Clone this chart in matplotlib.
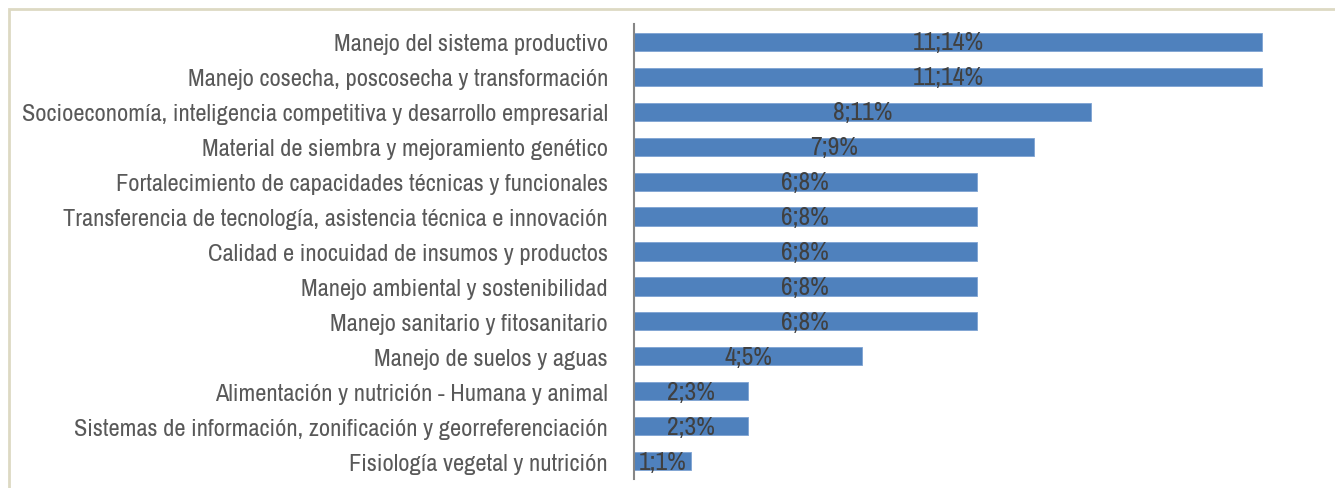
import matplotlib
matplotlib.use('Agg')
import matplotlib.pyplot as plt
from matplotlib import font_manager
from matplotlib.patches import Rectangle

# Data (top to bottom as shown)
categories = [
    'Manejo del sistema productivo',
    'Manejo cosecha, poscosecha y transformación',
    'Socioeconomía, inteligencia competitiva y desarrollo empresarial',
    'Material de siembra y mejoramiento genético',
    'Fortalecimiento de capacidades técnicas y funcionales',
    'Transferencia de tecnología, asistencia técnica e innovación',
    'Calidad e inocuidad de insumos y productos',
    'Manejo ambiental y sostenibilidad',
    'Manejo sanitario y fitosanitario',
    'Manejo de suelos y aguas',
    'Alimentación y nutrición - Humana y animal',
    'Sistemas de información, zonificación y georreferenciación',
    'Fisiología vegetal y nutrición',
]
counts = [11, 11, 8, 7, 6, 6, 6, 6, 6, 4, 2, 2, 1]
percents = [14, 14, 11, 9, 8, 8, 8, 8, 8, 5, 3, 3, 1]

# look for a narrow font, otherwise plain DejaVu Sans
names = sorted({f.name for f in font_manager.fontManager.ttflist})
narrow = [n for n in names if 'Narrow' in n or 'Condensed' in n]
family = narrow[0] if narrow else 'DejaVu Sans'
plt.rcParams['font.family'] = [family, 'DejaVu Sans']

fig = plt.figure(figsize=(13.35, 4.89), dpi=100)
ax = fig.add_axes([634 / 1335, 1 - 479.5 / 489, 685 / 1335, 454 / 489])

# outer frame
fig.patches.append(Rectangle((9 / 1335, -0.1), 1.2, 1 - 10 / 489 + 0.1,
                             transform=fig.transFigure, fill=False,
                             edgecolor='#ddd9c3', linewidth=2))

y = list(range(len(categories)))
ax.barh(y, counts, height=0.52, color='#4f81bd', edgecolor='#7ea3d3', linewidth=0.6)

ax.set_yticks(y)
labels = ax.set_yticklabels(categories, fontsize=16, color='#595959')
ax.tick_params(axis='y', length=0, pad=18.7)
ax.set_xticks([])
ax.set_xlim(0, 12)
ax.set_ylim(len(categories) - 0.5, -0.5)

# fit label size so the longest label spans ~585 px like the reference
r = fig.canvas.get_renderer()
w = max(t.get_window_extent(r).width for t in labels)
fs = 16 * 585 / w
for t in labels:
    t.set_fontsize(fs)

for yi, c, p in zip(y, counts, percents):
    ax.text(c / 2, yi, f'{c};{p}%', ha='center', va='center',
            fontsize=fs * 1.05, color='#404040')

for s in ['top', 'right', 'bottom']:
    ax.spines[s].set_visible(False)
ax.spines['left'].set_color('#868686')
ax.spines['left'].set_linewidth(1.5)

fig.savefig('out.png', dpi=100)
